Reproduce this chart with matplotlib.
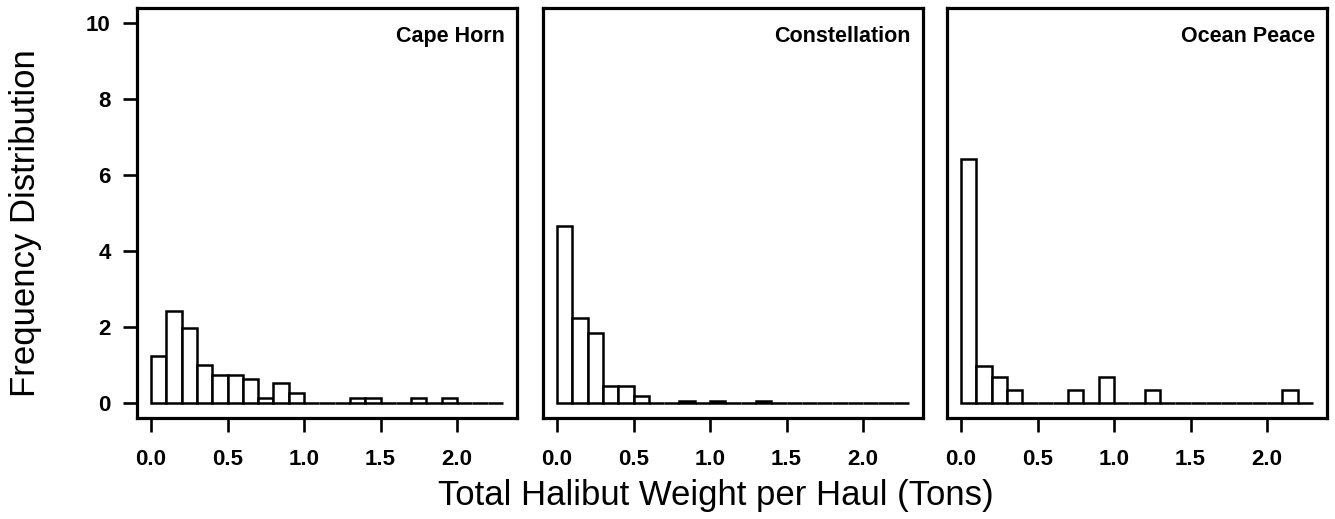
import numpy as np
import matplotlib
matplotlib.use('Agg')
from matplotlib import pyplot as plt

plt.rcParams['font.family'] = ['Liberation Sans', 'DejaVu Sans']

# histogram bins (tons) and densities per vessel
bin_edges = np.round(np.arange(0, 2.31, 0.1), 1)
vessels = ['Cape Horn', 'Constellation', 'Ocean Peace']
cape_horn = [1.24, 2.43, 1.97, 1.00, 0.74, 0.74, 0.63, 0.13, 0.51, 0.25, 0, 0,
             0, 0.12, 0.12, 0, 0, 0.12, 0, 0.12, 0, 0, 0]
constellation = [4.67, 2.24, 1.85, 0.45, 0.45, 0.19, 0, 0, 0.06, 0, 0.06, 0,
                 0, 0.06, 0, 0, 0, 0, 0, 0, 0, 0, 0]
ocean_peace = [6.43, 0.98, 0.67, 0.35, 0, 0, 0, 0.33, 0, 0.67, 0, 0,
               0.33, 0, 0, 0, 0, 0, 0, 0, 0, 0.33, 0]
x_ticks = [0.0, 0.5, 1.0, 1.5, 2.0]
y_ticks = [0, 2, 4, 6, 8, 10]

W, H = 1335, 519
fig = plt.figure(figsize=(W / 100, H / 100), dpi=100)

panel_left = [137, 543, 947]
panel_w = 380
panel_top, panel_bottom = 8, 418

for i, (name, dens) in enumerate(zip(vessels, [cape_horn, constellation, ocean_peace])):
    ax = fig.add_axes([panel_left[i] / W, 1 - panel_bottom / H,
                       panel_w / W, (panel_bottom - panel_top) / H])
    ax.bar(bin_edges[:-1], dens, width=0.1, align='edge', color='white',
           edgecolor='black', linewidth=1.8)
    ax.set_xlim(-0.092, 2.392)
    ax.set_ylim(-0.4, 10.4)
    for s in ax.spines.values():
        s.set_linewidth(2.3)
    ax.set_xticks(x_ticks)
    ax.set_xticklabels([f'{t:.1f}' for t in x_ticks], fontsize=16, fontweight='bold')
    ax.tick_params(axis='x', direction='out', length=10, width=1.9, pad=12)
    if i == 0:
        ax.set_yticks(y_ticks)
        ax.set_yticklabels([str(t) for t in y_ticks], fontsize=16, fontweight='bold')
        ax.tick_params(axis='y', direction='out', length=10, width=1.9, pad=9)
    else:
        ax.set_yticks([])
    ax.text(0.968, 0.917, name, transform=ax.transAxes, ha='right', va='baseline',
            fontsize=15.5, fontweight='bold')

fig.text(716 / W, 1 - 496 / H, 'Total Halibut Weight per Haul (Tons)',
         ha='center', va='center', fontsize=25)
fig.text(26 / W, 1 - 223 / H, 'Frequency Distribution', rotation=90,
         ha='center', va='center', fontsize=25)

fig.savefig('out.png', dpi=100)
